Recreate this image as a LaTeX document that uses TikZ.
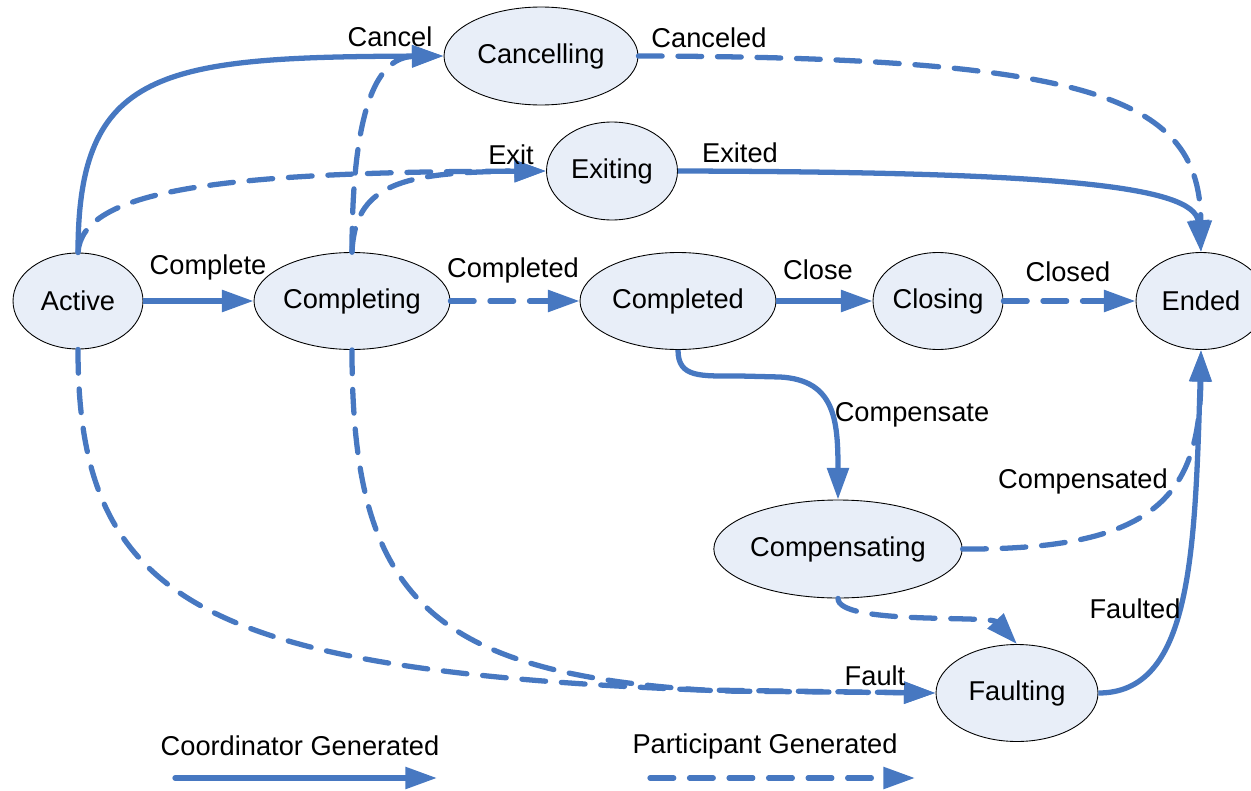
\documentclass[tikz,border=0pt]{standalone}
\usepackage{fontspec}
\setmainfont{Liberation Sans}
\usetikzlibrary{arrows.meta,shapes.geometric}
\definecolor{lb}{RGB}{71,120,193}
\definecolor{fb}{RGB}{232,238,248}
\begin{document}
\begin{tikzpicture}[x=0.02cm,y=-0.02cm,
  st/.style={ellipse,draw=black,line width=0.5pt,fill=fb,inner sep=0pt,font=\fontsize{15.5}{18}\selectfont},
  lbl/.style={font=\fontsize{15.5}{18}\selectfont,inner sep=0pt},
  co/.style={draw=lb,line width=3pt,-{Triangle[length=18pt,width=12pt]}},
  pa/.style={co,line cap=round,dash pattern=on 13.5pt off 9pt}]
\useasboundingbox (0,0) rectangle (1251,791);
% states
\node[st,minimum width=2.6cm,minimum height=1.92cm] (act) at (78,301) {Active};
\node[st,minimum width=3.92cm,minimum height=1.94cm] (cpg) at (352,301) {Completing};
\node[st,minimum width=3.92cm,minimum height=1.94cm] (cpd) at (678,301) {Completed};
\node[st,minimum width=2.6cm,minimum height=1.94cm] (clo) at (938,301) {Closing};
\node[st,minimum width=2.6cm,minimum height=1.94cm] (end) at (1201,301) {Ended};
\node[st,minimum width=3.88cm,minimum height=1.96cm] (can) at (541,56) {Cancelling};
\node[st,minimum width=2.62cm,minimum height=1.96cm] (exi) at (612,171) {Exiting};
\node[st,minimum width=4.6cm,minimum height=1.96cm] (cmp) at (838,549) {Compensating};
\node[st,minimum width=3.24cm,minimum height=1.94cm] (flt) at (1017,693) {Faulting};
% transitions
\draw[co] (act) -- (cpg);
\draw[pa] (cpg) -- (cpd);
\draw[co] (cpd) -- (clo);
\draw[pa] (clo) -- (end);
\draw[co] (act.north) .. controls (78,70) and (160,57) .. (can.west);
\draw[pa] (act.north) .. controls (82,190) and (220,172) .. (exi.west);
\draw[pa] (cpg.north) .. controls (352,100) and (380,57) .. (can.west);
\draw[pa] (cpg.north) .. controls (355,185) and (400,172) .. (exi.west);
\draw[pa] (can.east) .. controls (1100,57) and (1200,100) .. (end.north);
\draw[co] (exi.east) .. controls (1050,172) and (1195,185) .. (end.north);
\draw[co] (cpd.south) .. controls (678,378) and (700,376) .. (740,376) -- (780,377) .. controls (835,380) and (838,420) .. (cmp.north);
\draw[pa] (cmp.east) .. controls (1150,550) and (1200,500) .. (end.south);
\draw[co] (flt.east) .. controls (1190,693) and (1195,560) .. (end.south);
\draw[pa] (cmp.south) .. controls (838,625) and (990,615) .. (flt.north);
\draw[pa] (act.south) .. controls (78,600) and (200,670) .. (700,690) -- (flt.west);
\draw[pa] (cpg.south) .. controls (352,595) and (425,675) .. (720,691) -- (flt.west);
% labels
\node[lbl] (l1) at (390,37) {Cancel};
\node[lbl] (l2) at (709,38) {Canceled};
\node[lbl] (l3) at (511,155) {Exit};
\node[lbl] (l4) at (740,153) {Exited};
\node[lbl] (l5) at (208,267) {Complete};
\node[lbl] (l6) at (513,270) {Completed};
\node[lbl] (l7) at (818,270) {Close};
\node[lbl] (l8) at (1068,272) {Closed};
\node[lbl] (l9) at (912,415) {Compensate};
\node[lbl] (l10) at (1083,481) {Compensated};
\node[lbl] (l11) at (1135,609) {Faulted};
\node[lbl] (l12) at (875,676) {Fault};
% legend
\node[lbl] (lg) at (300,746) {Coordinator Generated};
\node[lbl] (lp) at (765,746) {Participant Generated};
\coordinate (g1) at (175,778);
\coordinate (g2) at (437,778);
\coordinate (p1) at (650,778);
\coordinate (p2) at (915,778);
\draw[co,line cap=round] (g1) -- (g2);
\draw[pa] (p1) -- (p2);
\end{tikzpicture}
\end{document}
